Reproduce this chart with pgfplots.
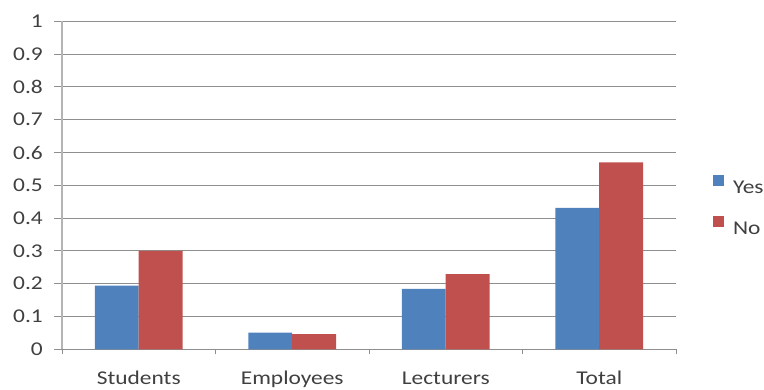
\documentclass[border=0pt]{standalone}
\usepackage{fontspec}
\setmainfont[FakeStretch=1.2]{Carlito}
\usepackage{pgfplots}
\pgfplotsset{compat=1.18}
\definecolor{xlblue}{HTML}{4F81BD}
\definecolor{xlred}{HTML}{C0504D}
\definecolor{gridgray}{HTML}{8E8E8E}
\definecolor{axgray}{HTML}{B4B4B4}
\definecolor{txt}{HTML}{404040}
\begin{document}
\begin{tikzpicture}
\useasboundingbox (-62pt,-40.7pt) rectangle (702pt,349.3pt);
\begin{axis}[
  scale only axis,
  width=614pt, height=328pt,
  xmin=-0.5, xmax=3.5,
  ymin=0, ymax=1,
  ytick={0,0.1,...,1},
  yticklabels={0,0.1,0.2,0.3,0.4,0.5,0.6,0.7,0.8,0.9,1},
  xtick={0,1,2,3},
  xticklabels={Students,Employees,Lecturers,Total},
  minor xtick={-0.5,0.5,1.5,2.5,3.5},
  axis x line*=bottom, axis y line*=left,
  axis line style={-},
  x axis line style={draw=gridgray, line width=1pt},
  y axis line style={draw=axgray, line width=1.6pt},
  ymajorgrids,
  major grid style={draw=gridgray, line width=0.9pt},
  tick align=outside,
  major y tick style={draw=gridgray, line width=0.9pt},
  major tick length=8pt,
  major x tick style={draw=none},
  minor x tick style={draw=gridgray, line width=0.9pt},
  minor tick length=5pt,
  ytick style={draw=gridgray},
  yticklabel style={font=\fontsize{19.5}{22}\selectfont, text=txt, inner sep=0pt, xshift=-11pt},
  xticklabel style={font=\fontsize{19.5}{22}\selectfont, text=txt, inner sep=0pt,
    text height=13pt, text depth=0pt, anchor=north, yshift=-14pt},
  ybar=0pt,
  bar width=43.8pt,
  legend style={at={(1.0603,0.531)}, anchor=north west, draw=none, fill=none,
    inner sep=0pt, outer sep=0pt,
    font=\fontsize{19.5}{22}\selectfont, text=txt, row sep=22pt,
    nodes={inner sep=0pt, text height=13pt, text depth=0pt},
    /tikz/every odd column/.append style={column sep=9pt}},
  legend image code/.code={\fill[#1] (0pt,1pt) rectangle (11pt,12pt);},
  legend cell align=left,
]
\addplot[fill=xlblue, draw=none] coordinates {(0,0.194) (1,0.051) (2,0.184) (3,0.431)};
\addplot[fill=xlred, draw=none] coordinates {(0,0.300) (1,0.046) (2,0.229) (3,0.570)};
\legend{Yes,No}
\end{axis}
\end{tikzpicture}
\end{document}
